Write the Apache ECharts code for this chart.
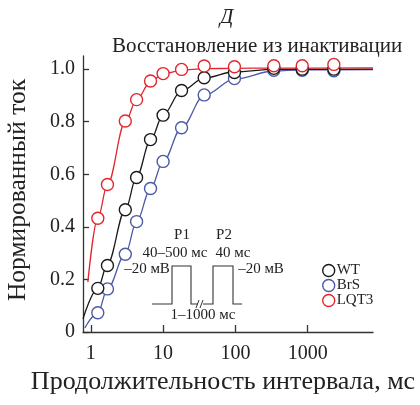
<!DOCTYPE html>
<html>
<head>
<meta charset="utf-8">
<script src="https://cdn.jsdelivr.net/npm/echarts@6/dist/echarts.min.js"></script>
<style>
  html, body { margin: 0; padding: 0; background: #fff; }
  #chart { width: 420px; height: 405px; }
</style>
</head>
<body>
<div id="chart"></div>
<script>
// interval durations, ms (shared by all three groups)
const intervalMs = [1.25, 1.7, 3.0, 4.3, 6.7, 10, 18, 37, 97, 340, 840, 2300];

// normalized current, measured points
const wtVals   = [0.166, 0.253, 0.465, 0.588, 0.732, 0.825, 0.919, 0.967, 0.987, 1.003, 1.0, 1.0];
const brsVals  = [0.073, 0.164, 0.296, 0.42, 0.546, 0.649, 0.777, 0.902, 0.964, 0.996, 0.996, 0.994];
const lqt3Vals = [0.433, 0.561, 0.803, 0.884, 0.955, 0.983, 0.999, 1.012, 1.009, 1.013, 1.013, 1.018];

// fitted curves as [ms, value]
const wtFit   = [[0.78, 0.05], [1.25, 0.166], [1.7, 0.258], [3.0, 0.465], [4.3, 0.59], [6.7, 0.73], [10, 0.826], [18, 0.918], [37, 0.966], [97, 0.99], [340, 0.999], [8000, 1.0]];
const brsFit  = [[0.826, 0.015], [1.25, 0.073], [1.7, 0.164], [3.0, 0.296], [4.3, 0.42], [6.7, 0.545], [10, 0.648], [18, 0.777], [37, 0.9], [97, 0.962], [340, 0.993], [840, 0.997], [8000, 0.998]];
const lqt3Fit = [[0.91, 0.19], [1.25, 0.433], [1.7, 0.561], [3.0, 0.8], [4.3, 0.884], [6.7, 0.952], [10, 0.982], [18, 0.996], [37, 1.002], [97, 1.003], [340, 1.004], [8000, 1.005]];

const xTicks = [1, 10, 100, 1000];
const yTicks = [0, 0.2, 0.4, 0.6, 0.8, 1.0];

const groups = ['WT', 'BrS', 'LQT3'];
const colors = { WT: '#1a1a1a', BrS: '#4b59a6', LQT3: '#e3262d' };

const serif = '"Liberation Serif", "DejaVu Serif", serif';

const pairs = (vals) => vals.map((v, i) => [intervalMs[i], v]);

const chart = echarts.init(document.getElementById('chart'));

const fitSeries = (name, data) => ({
  type: 'line',
  name: name + ' fit',
  data: data,
  smooth: 0.35,
  smoothMonotone: 'x',
  showSymbol: false,
  silent: true,
  lineStyle: { color: colors[name], width: 1.3 },
  z: 2
});

const pointSeries = (name, vals) => ({
  type: 'scatter',
  name: name,
  data: pairs(vals),
  symbol: 'circle',
  symbolSize: 12,
  itemStyle: { color: '#fff', borderColor: colors[name], borderWidth: 1.4, opacity: 1 },
  z: 5
});

const insetText = (text, x, y) => ({
  type: 'text',
  x: x, y: y,
  style: { text: text, font: '15px ' + serif, fill: '#222', align: 'center', verticalAlign: 'middle' }
});

const option = {
  animation: false,
  backgroundColor: '#fff',
  textStyle: { fontFamily: serif, color: '#222' },
  title: [{
    text: 'Д',
    left: 215, top: 2,
    textStyle: { fontFamily: serif, fontSize: 21, fontStyle: 'italic', fontWeight: 'normal', color: '#222' }
  }, {
    text: 'Восстановление из инактивации',
    left: 107, top: 31,
    textStyle: { fontFamily: serif, fontSize: 21, fontWeight: 'normal', color: '#222' }
  }],
  legend: {
    orient: 'vertical',
    left: 317, top: 258,
    itemWidth: 12, itemHeight: 12, itemGap: 0,
    icon: 'circle',
    textStyle: { fontFamily: serif, fontSize: 15, lineHeight: 13, color: '#222', padding: [0, 0, 0, -3] },
    data: groups.map(g => ({
      name: g,
      itemStyle: { color: '#fff', borderColor: colors[g], borderWidth: 1.4 }
    }))
  },
  grid: { left: 83, top: 56, right: 47, bottom: 73, outerBoundsMode: 'none', containLabel: false },
  xAxis: {
    type: 'log',
    logBase: 10,
    min: 0.78, max: 8000,
    name: 'Продолжительность интервала, мс',
    nameLocation: 'middle',
    nameGap: 37,
    nameTextStyle: { fontFamily: serif, fontSize: 26, color: '#222', padding: [0, 10, 0, 0] },
    axisLine: { lineStyle: { color: '#333', width: 1.3 } },
    axisTick: { inside: true, length: 7, customValues: xTicks, lineStyle: { color: '#333', width: 1.3 } },
    axisLabel: {
      customValues: xTicks, margin: 12, fontFamily: serif, fontSize: 20, color: '#222',
      formatter: v => String(Math.round(v))
    },
    splitLine: { show: false }
  },
  yAxis: {
    type: 'value',
    min: 0, max: 1.05,
    name: 'Нормированный ток',
    nameLocation: 'middle',
    nameGap: 52,
    nameTextStyle: { fontFamily: serif, fontSize: 25.5, color: '#222', padding: [0, 0, 0, 8] },
    axisLine: { show: true, lineStyle: { color: '#333', width: 1.3 } },
    axisTick: { show: true, inside: true, length: 6, customValues: yTicks, lineStyle: { color: '#333', width: 1.3 } },
    axisLabel: {
      customValues: yTicks, margin: 8, fontFamily: serif, fontSize: 20, color: '#222',
      formatter: v => (v === 0 ? '0' : v.toFixed(1))
    },
    splitLine: { show: false }
  },
  series: [
    fitSeries('BrS', brsFit),
    fitSeries('WT', wtFit),
    fitSeries('LQT3', lqt3Fit),
    pointSeries('BrS', brsVals),
    pointSeries('WT', wtVals),
    pointSeries('LQT3', lqt3Vals)
  ],
  // stimulation protocol inset
  graphic: [
    { type: 'polyline', shape: { points: [[152, 304], [172, 304], [172, 266], [191, 266], [191, 304], [198, 304]] }, style: { stroke: '#333', lineWidth: 1.1, fill: null } },
    { type: 'polyline', shape: { points: [[203, 304], [213, 304], [213, 266], [233, 266], [233, 304], [242, 304]] }, style: { stroke: '#333', lineWidth: 1.1, fill: null } },
    { type: 'line', shape: { x1: 196, y1: 308, x2: 199, y2: 300 }, style: { stroke: '#333', lineWidth: 1 } },
    { type: 'line', shape: { x1: 200, y1: 308, x2: 203, y2: 300 }, style: { stroke: '#333', lineWidth: 1 } },
    insetText('P1', 182, 235),
    insetText('P2', 224, 235),
    insetText('40–500 мс', 175, 253),
    insetText('40 мс', 233, 253),
    insetText('–20 мВ', 147, 269),
    insetText('–20 мВ', 261, 269),
    insetText('1–1000 мс', 203, 315)
  ]
};

chart.setOption(option);
</script>
</body>
</html>
